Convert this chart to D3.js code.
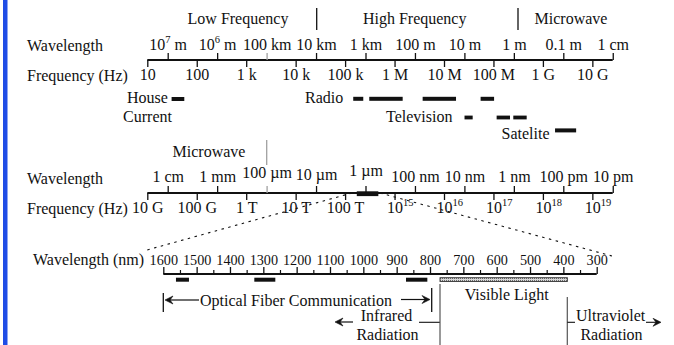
<!DOCTYPE html>
<html><head><meta charset="utf-8">
<script src="https://cdn.jsdelivr.net/npm/d3@7"></script>
<style>
html,body{margin:0;padding:0;background:#fff;overflow:hidden;}
svg{display:block;}
text{font-family:"Liberation Serif","Times New Roman",serif;fill:#111;}
</style></head><body>
<svg id="chart" width="674" height="345"></svg>
<script>
// ---------- data ----------
const freqTicksTop = [1e1,1e2,1e3,1e4,1e5,1e6,1e7,1e8,1e9,1e10];
const freqLabelsTop = ["10","100","1 k","10 k","100 k","1 M","10 M","100 M","1 G","10 G"];
const waveTicksTop = [1e7,1e6,1e5,1e4,1e3,1e2,1e1,1e0,1e-1,1e-2];
const waveLabelsTop = ["10^7 m","10^6 m","100 km","10 km","1 km","100 m","10 m","1 m","0.1 m","1 cm"];
const freqTicksBottom = [1e10,1e11,1e12,1e13,1e14,1e15,1e16,1e17,1e18,1e19];
const freqLabelsBottom = ["10 G","100 G","1 T","10 T","100 T","10^15","10^16","10^17","10^18","10^19"];
const waveTicksBottom = [1e-2,1e-3,1e-4,1e-5,1e-6,1e-7,1e-8,1e-9,1e-10,1e-11];
const waveLabelsBottom = ["1 cm","1 mm","100 µm","10 µm","1 µm","100 nm","10 nm","1 nm","100 pm","10 pm"];
const nmMajor = [1600,1500,1400,1300,1200,1100,1000,900,800,700,600,500,400,300];
const nmMinor = [1550,1450,1350,1250,1150,1050,950,850,750,650,550,450,350];
const bandNames = ["Low Frequency","High Frequency","Microwave"];
const houseCurrentHz = [[31,56]];
const radioHz = [[1.46e5,2.33e5],[3.08e5,1.46e6],[3.7e6,1.75e7],[5.5e7,1.03e8]];
const televisionHz = [[2.6e7,3.8e7],[1.16e8,2.16e8],[2.52e8,4.7e8]];
const satelliteHz = [[1.76e9,4.7e9]];
const fiberBandM = [[1.5e-6,0.55e-6]];
const fiberWindowsNm = [[1562,1523],[1327,1264],[872,808]];
const visibleNm = [[770,388]];

// ---------- drawing ----------
const svg = d3.select("#chart");
svg.append("rect").attr("width",674).attr("height",345).attr("fill","#fff");
svg.append("rect").attr("x",3).attr("y",0).attr("width",4.5).attr("height",345).attr("fill","#1f4de6");

const defs = svg.append("defs");
const pat = defs.append("pattern").attr("id","hatch").attr("width",2).attr("height",2).attr("patternUnits","userSpaceOnUse");
pat.append("rect").attr("width",2).attr("height",2).attr("fill","#d8d8d8");
pat.append("rect").attr("width",1).attr("height",1).attr("fill","#6a6a6a");

const INK = "#111";
const x0 = 147.3, x1 = 612.7, dec = 49.45;
const xF1 = d3.scaleLog().domain([1e1,1e10]).range([x0, x0+9*dec]);
const xW1 = d3.scaleLog().domain([1e7,1e-2]).range([167.7, 167.7+9*dec]);
const xF2 = d3.scaleLog().domain([1e10,1e19]).range([x0, x0+9*dec]);
const xW2 = d3.scaleLog().domain([1e-2,1e-11]).range([167.7, 167.7+9*dec]);
const xN = d3.scaleLinear().domain([1600,300]).range([163.3,596.7]);

function txt(x, y, s, anchor, size) {
  return svg.append("text").attr("x",x).attr("y",y).attr("text-anchor",anchor||"start")
    .attr("font-size",size||16).text(s);
}
function line(xa, ya, xb, yb, col, w) {
  return svg.append("line").attr("x1",xa).attr("y1",ya).attr("x2",xb).attr("y2",yb)
    .attr("stroke",col||INK).attr("stroke-width",w||1.3);
}
function arrowHead(tip, y, dir) { // dir -1 = points left, 1 = points right
  const s = -dir;
  svg.append("path").attr("d",`M${tip},${y} L${tip+s*8},${y-4} L${tip+s*5},${y} L${tip+s*8},${y+4} Z`)
    .attr("fill",INK).attr("stroke",INK).attr("stroke-width",0.6);
}
function setLabel(sel, str, mode) {
  sel.text(null);
  const m = str.match(/^(.*?)\^(\d+)(.*)$/);
  if (!m) { sel.attr("text-anchor","middle").text(str); return; }
  if (mode === "base") sel.attr("text-anchor","start").attr("x",-8);
  else sel.attr("text-anchor","middle");
  sel.append("tspan").text(m[1]);
  sel.append("tspan").attr("dy",-7).attr("font-size",10.5).text(m[2]);
  if (m[3]) sel.append("tspan").attr("dy",7).text(m[3]);
}

function drawRow(y, fScale, fTicks, fLabels, wScale, wTicks, wLabels, grayTick, fLabY, wLabY, raise) {
  const g = svg.append("g").attr("transform",`translate(0,${y})`);
  g.append("line").attr("x1",x0).attr("x2",x1).attr("stroke",INK).attr("stroke-width",2);
  const fa = g.append("g").call(d3.axisBottom(fScale).tickValues(fTicks).tickSize(7).tickSizeOuter(0)
      .tickFormat((d,i)=>fLabels[i]));
  fa.select(".domain").remove();
  fa.selectAll(".tick line").attr("stroke",INK).attr("stroke-width",1.3);
  fa.selectAll(".tick text").attr("y",fLabY).attr("dy",0).attr("font-size",16)
    .each(function(d,i){ setLabel(d3.select(this), fLabels[i], "base"); });
  const wa = g.append("g").call(d3.axisTop(wScale).tickValues(wTicks).tickSize(7).tickSizeOuter(0)
      .tickFormat((d,i)=>wLabels[i]));
  wa.select(".domain").remove();
  wa.selectAll(".tick line").attr("stroke",d => d===grayTick ? "#a0a0a0" : INK).attr("stroke-width",1.3);
  wa.selectAll(".tick text").attr("dy",0).attr("font-size",16)
    .attr("y",(d,i)=> wLabY - ((raise && raise[wLabels[i]]) || 0))
    .each(function(d,i){ setLabel(d3.select(this), wLabels[i], "center"); });
  return g;
}

// ----- top row -----
txt(238,24,bandNames[0],"middle");
txt(414.7,24,bandNames[1],"middle");
txt(571,24,bandNames[2],"middle");
line(316.7,8,316.7,30,INK,1.3);
line(518,8,518,30,INK,1.3);
txt(27,51,"Wavelength");
txt(27,81,"Frequency (Hz)");
drawRow(60, xF1, freqTicksTop, freqLabelsTop, xW1, waveTicksTop, waveLabelsTop, 1e5, 20, -10, null);

function hzBars(data, y, h) {
  svg.append("g").selectAll("rect").data(data).join("rect")
    .attr("x",d=>xF1(d[0])).attr("width",d=>xF1(d[1])-xF1(d[0]))
    .attr("y",y).attr("height",h).attr("fill",INK);
}
hzBars(houseCurrentHz, 97, 4);
hzBars(radioHz, 96.8, 4);
hzBars(televisionHz, 115.6, 3.8);
hzBars(satelliteHz, 128.4, 4);
txt(147.5,103,"House","middle");
txt(147.5,122,"Current","middle");
txt(305,103,"Radio");
txt(386,122,"Television");
txt(501.5,138.5,"Satelite");

// ----- second row -----
txt(209,157,"Microwave","middle");
line(266.7,140,266.7,165,"#a0a0a0",1.3);
txt(27,184,"Wavelength");
txt(27,214,"Frequency (Hz)");

// dashed zoom lines
line(352,193,147,250,INK,1.1).attr("stroke-dasharray","2.5,4.5");
line(380,193,612,256,INK,1.1).attr("stroke-dasharray","2.5,4.5");

const row2 = drawRow(193, xF2, freqTicksBottom, freqLabelsBottom, xW2, waveTicksBottom, waveLabelsBottom, 1e-4, 20, -11,
  {"100 µm":4,"10 µm":2,"1 µm":6});
svg.append("g").selectAll("rect").data(fiberBandM).join("rect")
  .attr("x",d=>xW2(d[0])).attr("width",d=>xW2(d[1])-xW2(d[0]))
  .attr("y",191.3).attr("height",4.8).attr("fill",INK);

// ----- third row (nm) -----
txt(33,265,"Wavelength (nm)");
const ng = svg.append("g").attr("transform","translate(0,274)");
ng.append("line").attr("x1",xN(1600)).attr("x2",xN(300)).attr("stroke",INK).attr("stroke-width",2);
const na = ng.append("g").call(d3.axisTop(xN).tickValues(nmMajor).tickSize(7).tickSizeOuter(0).tickFormat(d3.format("d")));
na.select(".domain").remove();
na.selectAll(".tick line").attr("stroke",INK).attr("stroke-width",1.3);
na.selectAll(".tick text").attr("y",-9).attr("dy",0).attr("font-size",14.2);
const nm2 = ng.append("g").call(d3.axisTop(xN).tickValues(nmMinor).tickSize(4).tickSizeOuter(0).tickFormat(""));
nm2.select(".domain").remove();
nm2.selectAll(".tick line").attr("stroke",INK).attr("stroke-width",1.2);

svg.append("g").selectAll("rect").data(fiberWindowsNm).join("rect")
  .attr("x",d=>xN(d[0])).attr("width",d=>xN(d[1])-xN(d[0]))
  .attr("y",277.7).attr("height",4).attr("fill",INK);
svg.append("g").selectAll("rect").data(visibleNm).join("rect")
  .attr("x",d=>xN(d[0])).attr("width",d=>xN(d[1])-xN(d[0]))
  .attr("y",277.7).attr("height",3.8).attr("fill","url(#hatch)").attr("stroke","#333").attr("stroke-width",0.9);

// ----- annotations -----
line(163.3,293,163.3,312,INK,1.3);
line(167,300,199,300,INK,1.2);
arrowHead(165,300,-1);
txt(200,305.5,"Optical Fiber Communication");
line(401,299.5,428,299.5,INK,1.2);
arrowHead(430,299.5,1);
line(431.7,288,431.7,312,INK,1.3);

txt(386.5,321,"Infrared","middle");
txt(387.5,340,"Radiation","middle");
line(340,322,353,322,INK,1.2);
arrowHead(335,322,-1);
line(419,322.3,440,322.3,INK,1.1);
line(440,284,440,345,"#555",1.2);

txt(506.7,300,"Visible Light","middle");

line(567.3,297,567.3,345,"#555",1.2);
line(567.3,322.3,575,322.3,INK,1.1);
txt(576,321,"Ultraviolet");
line(646,322.3,657,322.3,INK,1.1);
arrowHead(661,322.3,1);
txt(611.5,340,"Radiation","middle");
</script>
</body></html>
